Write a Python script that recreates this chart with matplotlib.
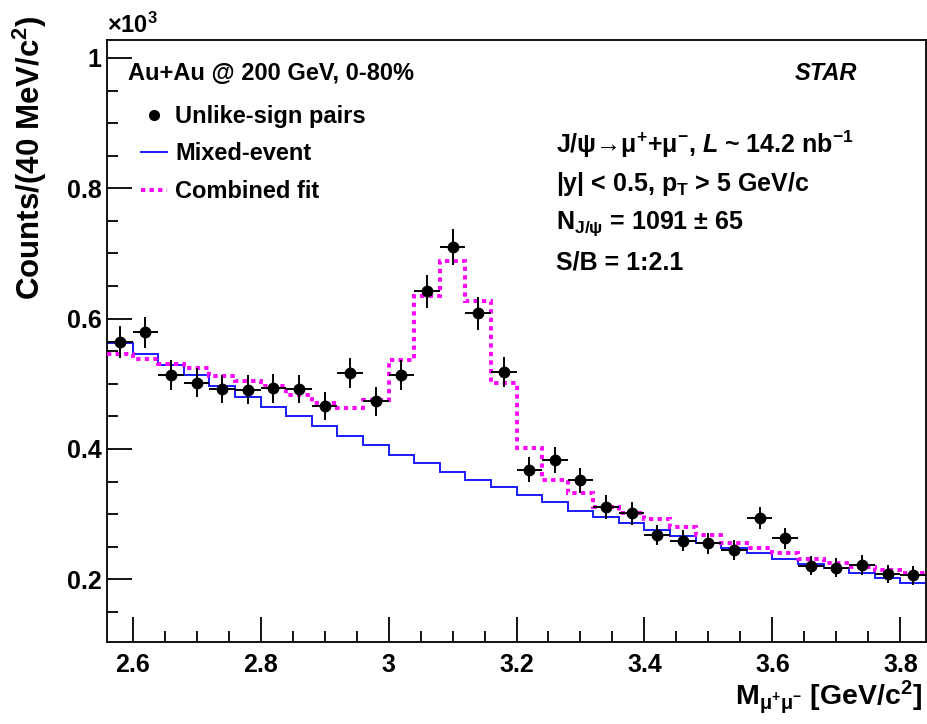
import numpy as np
import matplotlib
matplotlib.use("Agg")
import matplotlib.pyplot as plt
from matplotlib.lines import Line2D
from matplotlib.ticker import MultipleLocator, FuncFormatter

plt.rcParams['font.family'] = ['Liberation Sans', 'DejaVu Sans']
plt.rcParams['font.weight'] = 'bold'
plt.rcParams['mathtext.fontset'] = 'custom'
plt.rcParams['mathtext.rm'] = 'Liberation Sans:bold'
plt.rcParams['mathtext.bf'] = 'Liberation Sans:bold'
plt.rcParams['mathtext.it'] = 'Liberation Sans:bold:italic'
plt.rcParams['mathtext.sf'] = 'Liberation Sans:bold'
plt.rcParams['mathtext.default'] = 'bf'

# ---- data (counts in units of 10^3 per 40 MeV/c^2 bin) ----
mass_centers = [2.58, 2.62, 2.66, 2.70, 2.74, 2.78, 2.82, 2.86, 2.90, 2.94,
                2.98, 3.02, 3.06, 3.10, 3.14, 3.18, 3.22, 3.26, 3.30, 3.34,
                3.38, 3.42, 3.46, 3.50, 3.54, 3.58, 3.62, 3.66, 3.70, 3.74,
                3.78, 3.82]
bin_width = 0.04

unlike_sign = [0.564, 0.579, 0.514, 0.502, 0.492, 0.491, 0.493, 0.492, 0.466, 0.516,
               0.473, 0.513, 0.642, 0.710, 0.608, 0.518, 0.368, 0.383, 0.352, 0.311,
               0.301, 0.268, 0.259, 0.255, 0.245, 0.294, 0.263, 0.221, 0.218, 0.222,
               0.208, 0.206]
unlike_err = [0.024, 0.024, 0.023, 0.022, 0.022, 0.022, 0.022, 0.022, 0.022, 0.023,
              0.022, 0.023, 0.025, 0.027, 0.025, 0.023, 0.019, 0.020, 0.019, 0.018,
              0.017, 0.016, 0.016, 0.016, 0.016, 0.017, 0.016, 0.015, 0.015, 0.015,
              0.014, 0.014]

mixed_event = [0.563, 0.546, 0.529, 0.514, 0.497, 0.480, 0.465, 0.450, 0.435, 0.420,
               0.406, 0.391, 0.379, 0.364, 0.352, 0.342, 0.330, 0.318, 0.305, 0.296,
               0.286, 0.276, 0.267, 0.256, 0.248, 0.240, 0.231, 0.224, 0.217, 0.209,
               0.202, 0.195]

combined_fit = [0.546, 0.538, 0.531, 0.524, 0.512, 0.505, 0.496, 0.483, 0.470, 0.463,
                0.475, 0.537, 0.635, 0.689, 0.627, 0.501, 0.402, 0.352, 0.332, 0.311,
                0.302, 0.292, 0.281, 0.268, 0.256, 0.248, 0.241, 0.231, 0.225, 0.219,
                0.214, 0.210]

xticks = [2.6, 2.8, 3.0, 3.2, 3.4, 3.6, 3.8]
yticks = [0.2, 0.4, 0.6, 0.8, 1.0]

centers = np.array(mass_centers)
edges = np.append(centers - bin_width / 2, centers[-1] + bin_width / 2)

fig = plt.figure(figsize=(9.28, 7.24), dpi=100)
L, R, B, T = 107, 926, 642, 40
W, H = 928, 724
ax = fig.add_axes([L / W, 1 - B / H, (R - L) / W, (B - T) / H])

ax.stairs(mixed_event, edges, color='#1a1aff', lw=1.4, baseline=None, zorder=2)
ax.stairs(combined_fit, edges, color='#ff00ff', lw=2.8, linestyle=(0, (1.1, 1.1)),
          baseline=None, zorder=3)
ax.errorbar(centers, unlike_sign, yerr=unlike_err, xerr=bin_width / 2, fmt='o',
            color='black', ms=7.5, elinewidth=1.4, capsize=0, zorder=4)

ax.set_xlim(2.56, 3.84)
ax.set_ylim(0.1038, 1.0276)
ax.set_xticks(xticks)
ax.set_yticks(yticks)
ax.xaxis.set_minor_locator(MultipleLocator(0.05))
ax.yaxis.set_minor_locator(MultipleLocator(0.05))
fmt = FuncFormatter(lambda v, p: '%g' % round(v, 3))
ax.xaxis.set_major_formatter(fmt)
ax.yaxis.set_major_formatter(fmt)
ax.tick_params(axis='both', which='major', direction='in', length=18, width=1.3,
               labelsize=18, top=False, right=False)
ax.tick_params(axis='both', which='minor', direction='in', length=8, width=1.3,
               top=False, right=False)
ax.tick_params(axis='x', which='major', pad=8)
ax.tick_params(axis='y', which='major', pad=4)
for s in ax.spines.values():
    s.set_linewidth(1.3)

# axis titles
fig.text(30 / W, 1 - 15 / H, 'Counts/(40 MeV/c$^{2}$)', rotation=90, ha='center',
         va='top', fontsize=22.5)
fig.text(922 / W, 1 - 705 / H, r'M$_{\mu^{+}\mu^{-}}$ [GeV/c$^{2}$]', ha='right',
         va='baseline', fontsize=20.5)
fig.text(107 / W, 1 - 33 / H, '×10$^{3}$', ha='left', va='baseline', fontsize=17)

# annotations
ax.text(0.0256, 0.945, 'Au+Au @ 200 GeV, 0-80%', transform=ax.transAxes,
        ha='left', va='center', fontsize=17)
ax.text(0.9158, 0.945, 'STAR', transform=ax.transAxes, ha='right', va='center',
        fontsize=17, style='italic')
right_lines = [r'J/ψ→μ$^{+}$+μ$^{-}$, $\mathit{L}$ ~ 14.2 nb$^{-1}$',
               r'|y| < 0.5, p$_{T}$ > 5 GeV/c',
               r'N$_{J/ψ}$ = 1091 ± 65',
               'S/B = 1:2.1']
right_y = [0.826, 0.7605, 0.6957, 0.6312]
for txt, yy in zip(right_lines, right_y):
    ax.text(0.548, yy, txt, transform=ax.transAxes, ha='left', va='center',
            fontsize=18)

handles = [Line2D([], [], marker='o', color='black', ls='none', ms=7),
           Line2D([], [], color='#1a1aff', lw=1.4),
           Line2D([], [], color='#ff00ff', lw=2.8, ls=(0, (1.1, 1.1)))]
labels = ['Unlike-sign pairs', 'Mixed-event', 'Combined fit']
ax.legend(handles, labels, loc='upper left', bbox_to_anchor=(0.0417, 0.892),
          frameon=False, handlelength=1.1, handletextpad=0.35, labelspacing=0.61,
          borderaxespad=0, borderpad=0, prop={'size': 17, 'weight': 'bold'})

fig.savefig('out.png', dpi=100)
